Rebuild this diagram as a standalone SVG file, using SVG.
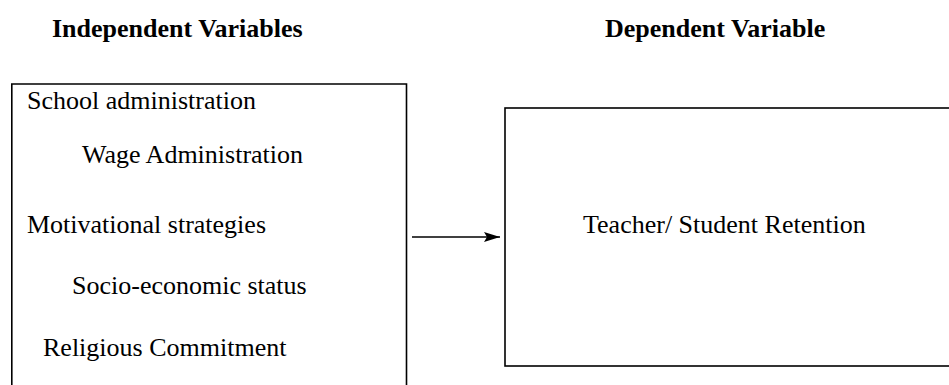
<svg xmlns="http://www.w3.org/2000/svg" width="949" height="385" viewBox="0 0 949 385">
<style>
.t{font-family:"Liberation Serif","Times New Roman",serif;font-size:26px;fill:#000}
.h{font-family:"Liberation Serif","Times New Roman",serif;font-size:26px;font-weight:bold;fill:#000}
.box{fill:none;stroke:#000;stroke-width:1.6}
.conn{stroke:#000;stroke-width:1.6;fill:none}
</style>
<defs>
<marker id="ah" viewBox="0 0 16 10" refX="16" refY="5" markerWidth="16" markerHeight="10" markerUnits="userSpaceOnUse" orient="auto">
<path d="M0,0 L16,5 L0,10 L3,5 Z" fill="#000"/>
</marker>
</defs>
<rect width="949" height="385" fill="#fff"/>
<g id="headings">
<text class="h" x="52" y="37">Independent Variables</text>
<text class="h" x="605" y="37">Dependent Variable</text>
</g>
<g id="independent">
<path class="box" d="M11.8,390 L11.8,84 L406.5,84 L406.5,390"/>
<text class="t" x="27" y="109">School administration</text>
<text class="t" x="82" y="163">Wage Administration</text>
<text class="t" x="27" y="233">Motivational strategies</text>
<text class="t" x="72" y="294">Socio-economic status</text>
<text class="t" x="43" y="356">Religious Commitment</text>
</g>
<g id="dependent">
<rect class="box" x="505" y="108" width="460" height="258" stroke-width="2"/>
<text class="t" x="583" y="233">Teacher/ Student Retention</text>
</g>
<g id="connectors">
<line class="conn" x1="412" y1="237" x2="500" y2="237" marker-end="url(#ah)"/>
</g>
</svg>
